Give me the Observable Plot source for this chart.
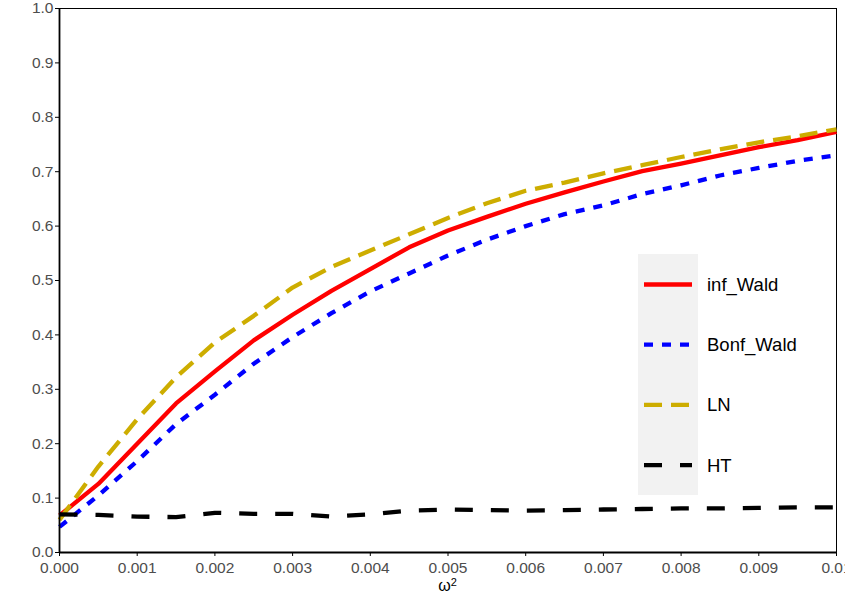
<!DOCTYPE html>
<html>
<head>
<meta charset="utf-8">
<script src="https://cdn.jsdelivr.net/npm/d3@7"></script>
<script src="https://cdn.jsdelivr.net/npm/@observablehq/plot@0.6"></script>
<style>
  html, body { margin: 0; padding: 0; background: #fff; }
  #chart { position: relative; width: 845px; height: 610px; overflow: hidden; }
</style>
</head>
<body>
<div id="chart"></div>
<script>
// ---- data ----
const omega2 = [0, 0.0005, 0.001, 0.0015, 0.002, 0.0025, 0.003, 0.0035, 0.004, 0.0045, 0.005,
                0.0055, 0.006, 0.0065, 0.007, 0.0075, 0.008, 0.0085, 0.009, 0.0095, 0.01];
const infWald  = [0.068, 0.126, 0.200, 0.274, 0.333, 0.390, 0.437, 0.481, 0.521, 0.561, 0.592,
                  0.617, 0.641, 0.662, 0.682, 0.701, 0.715, 0.730, 0.745, 0.758, 0.773];
const bonfWald = [0.047, 0.105, 0.168, 0.236, 0.290, 0.347, 0.396, 0.440, 0.480, 0.513, 0.546,
                  0.575, 0.600, 0.622, 0.638, 0.659, 0.675, 0.693, 0.707, 0.720, 0.730];
const LN       = [0.060, 0.158, 0.245, 0.322, 0.386, 0.435, 0.487, 0.525, 0.555, 0.585, 0.615,
                  0.642, 0.665, 0.680, 0.697, 0.712, 0.727, 0.741, 0.754, 0.765, 0.778];
const HT       = [0.070, 0.069, 0.066, 0.065, 0.073, 0.071, 0.071, 0.066, 0.070, 0.077, 0.079,
                  0.078, 0.077, 0.078, 0.079, 0.080, 0.081, 0.081, 0.082, 0.083, 0.083];

const seriesNames  = ["inf_Wald", "Bonf_Wald", "LN", "HT"];
const seriesValues = [infWald, bonfWald, LN, HT];
const seriesColors = ["#FF0000", "#0000FF", "#CDAD00", "#000000"];
const seriesDash   = [null, "9,9", "18,9", "18,18"];

const xTicks = [0, 0.001, 0.002, 0.003, 0.004, 0.005, 0.006, 0.007, 0.008, 0.009, 0.01];
const xTickLabels = ["0.000", "0.001", "0.002", "0.003", "0.004", "0.005", "0.006", "0.007", "0.008", "0.009", "0.01"];
const yTicks = [0, 0.1, 0.2, 0.3, 0.4, 0.5, 0.6, 0.7, 0.8, 0.9, 1.0];
const yTickLabels = ["0.0", "0.1", "0.2", "0.3", "0.4", "0.5", "0.6", "0.7", "0.8", "0.9", "1.0"];

// ---- build table ----
const rows = [];
seriesNames.forEach((name, s) => {
  omega2.forEach((w, i) => rows.push({series: name, w, v: seriesValues[s][i]}));
});

const W = 845, H = 610;
const mL = 59, mR = 9, mT = 8, mB = 58;
const LW = 4.3;
const FONT = "'Liberation Sans', Arial, Helvetica, sans-serif";

const lineMarks = seriesNames.map((name, s) =>
  Plot.line(rows.filter(r => r.series === name), {
    x: "w", y: "v",
    stroke: seriesColors[s],
    strokeWidth: LW,
    strokeDasharray: seriesDash[s] || undefined,
    strokeLinecap: "butt",
    strokeLinejoin: "round"
  })
);

const plot = Plot.plot({
  width: W, height: H,
  marginLeft: mL, marginRight: mR, marginTop: mT, marginBottom: mB,
  style: {fontFamily: FONT, fontSize: "15px", background: "#fff", overflow: "visible"},
  x: {domain: [0, 0.01]},
  y: {domain: [0, 1]},
  marks: [
    Plot.frame({stroke: "#000", strokeWidth: 1}),
    ...lineMarks,
    Plot.ruleX([0], {stroke: "#000", strokeWidth: 1.8}),
    Plot.ruleY([0], {stroke: "#000", strokeWidth: 1.8}),
    Plot.axisX({ticks: xTicks, tickFormat: (d) => xTickLabels[xTicks.indexOf(d)],
      tickSize: 4, tickPadding: 5, fontSize: 15, stroke: "#000", fill: "#4d4d4d", label: null}),
    Plot.axisY({ticks: yTicks, tickFormat: (d) => yTickLabels[yTicks.indexOf(d)],
      tickSize: 4, tickPadding: 2, fontSize: 15, stroke: "#000", fill: "#4d4d4d", label: null})
  ]
});

document.getElementById("chart").appendChild(plot);

const svg = d3.select(plot);
svg.selectAll("[aria-label='x-axis tick label'], [aria-label='y-axis tick label']")
  .attr("font-size", 15.5).style("font-size", "15.5px").style("font-family", FONT);
svg.selectAll("[aria-label='x-axis tick label'] text, [aria-label='y-axis tick label'] text")
  .attr("fill", "#4d4d4d").style("font-size", "15.5px");

// x axis title: ω²
const cx = (mL + (W - mR)) / 2;
const title = svg.append("text")
  .attr("x", cx).attr("y", 591)
  .attr("text-anchor", "middle")
  .attr("fill", "#000")
  .style("font-family", FONT)
  .style("font-size", "16px");
title.append("tspan").text("ω");
title.append("tspan").attr("dy", -5.5).style("font-size", "11px").text("2");

// legend
const lg = svg.append("g").attr("text-anchor", "start");
lg.append("rect").attr("x", 638).attr("y", 254).attr("width", 60).attr("height", 241).attr("fill", "#f2f2f2");
seriesNames.forEach((name, s) => {
  const yy = 284.5 + s * 60.2;
  lg.append("line").attr("x1", 644).attr("x2", 692).attr("y1", yy).attr("y2", yy)
    .attr("stroke", seriesColors[s]).attr("stroke-width", LW)
    .attr("stroke-dasharray", seriesDash[s] || null);
  lg.append("text").attr("x", 707).attr("y", yy).attr("dy", "0.35em")
    .attr("text-anchor", "start")
    .attr("fill", "#000")
    .style("font-family", FONT)
    .style("font-size", "18.5px")
    .text(name);
});
</script>
</body>
</html>
